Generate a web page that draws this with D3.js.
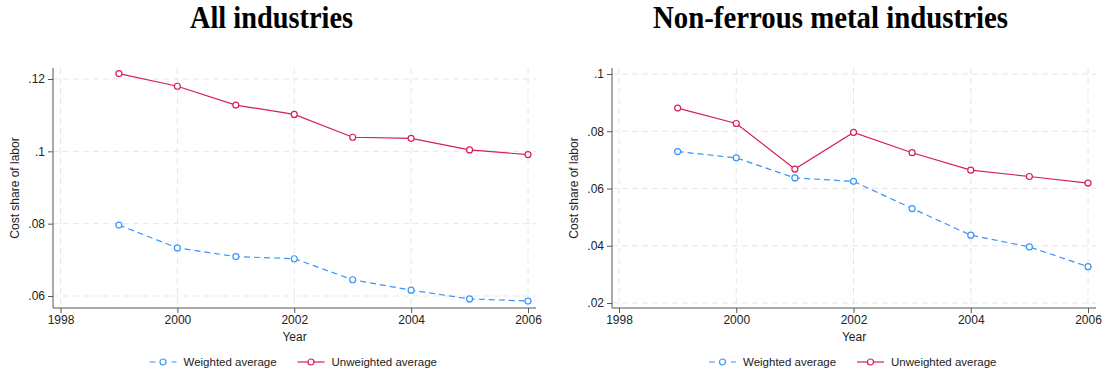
<!DOCTYPE html>
<html>
<head>
<meta charset="utf-8">
<script src="https://cdn.jsdelivr.net/npm/d3@7/dist/d3.min.js"></script>
<style>
  body { margin: 0; background: #fff; }
  svg { display: block; }
</style>
</head>
<body>
<script>
var years = [1999, 2000, 2001, 2002, 2003, 2004, 2005, 2006];
var xTicks = [1998, 2000, 2002, 2004, 2006];

var allWeighted = [.0796, .0733, .0709, .0703, .0645, .0616, .0592, .0586];
var allUnweighted = [.1215, .118, .1128, .1102, .1039, .1036, .1004, .0991];
var allTicks = [.06, .08, .1, .12];

var nfWeighted = [.0729, .0707, .0637, .0625, .053, .0437, .0396, .0327];
var nfUnweighted = [.0881, .0827, .0668, .0796, .0725, .0664, .0642, .0619];
var nfTicks = [.02, .04, .06, .08, .1];

var titles = ['All industries', 'Non-ferrous metal industries'];
var seriesNames = ['Weighted average', 'Unweighted average'];
var blue = '#3a94fb';
var red = '#d51f56';
var sans = '"Liberation Sans", Arial, sans-serif';

var w = 1104, h = 375;
var svg = d3.select('body').append('svg').attr('width', w).attr('height', h)
  .attr('font-family', sans);

var fmt = (v) => d3.format('.2~f')(v).replace(/^0/, '');

var panels = [
  { title: titles[0], weighted: allWeighted, unweighted: allUnweighted, ticks: allTicks,
    xr: [60.5, 528], yd: [.06, .12], yr: [296, 79], left: 53, right: 536, titleX: 271.5, titleW: 163 },
  { title: titles[1], weighted: nfWeighted, unweighted: nfUnweighted, ticks: nfTicks,
    xr: [619, 1088], yd: [.02, .1], yr: [303, 74], left: 612, right: 1096, titleX: 830.5, titleW: 355 }
];

panels.forEach((p) => {
  var x = d3.scaleLinear().domain([1998, 2006]).range(p.xr);
  var y = d3.scaleLinear().domain(p.yd).range(p.yr);
  var top = 68, bottom = 308;
  var g = svg.append('g');

  // grid
  g.selectAll('.hg').data(p.ticks).enter().append('line')
    .attr('x1', p.left).attr('x2', p.right)
    .attr('y1', d => y(d)).attr('y2', d => y(d))
    .attr('stroke', '#e6e6e6').attr('stroke-dasharray', '6,4');
  g.selectAll('.vg').data(xTicks).enter().append('line')
    .attr('x1', d => x(d)).attr('x2', d => x(d))
    .attr('y1', top).attr('y2', bottom)
    .attr('stroke', '#e6e6e6').attr('stroke-dasharray', '6,4');

  // axes
  var ya = g.append('g').attr('transform', 'translate(' + p.left + ',0)')
    .call(d3.axisLeft(y).tickValues(p.ticks).tickFormat(fmt).tickSize(5).tickPadding(3));
  ya.select('.domain').attr('d', 'M0,' + top + 'V' + bottom);
  var xa = g.append('g').attr('transform', 'translate(0,' + bottom + ')')
    .call(d3.axisBottom(x).tickValues(xTicks).tickFormat(d3.format('d')).tickSize(5).tickPadding(2));
  xa.select('.domain').attr('d', 'M' + p.left + ',0H' + p.right);
  g.selectAll('.domain, .tick line').attr('stroke', '#555');
  g.selectAll('.tick text').attr('font-size', 12).attr('fill', '#222').attr('font-family', sans);

  // titles
  svg.append('text').attr('x', p.titleX).attr('y', 28).attr('text-anchor', 'middle')
    .attr('font-family', '"Liberation Serif", "Times New Roman", serif')
    .attr('font-weight', 'bold').attr('font-size', 31).attr('fill', '#000')
    .attr('textLength', p.titleW).attr('lengthAdjust', 'spacingAndGlyphs')
    .text(p.title);
  svg.append('text')
    .attr('transform', 'translate(' + (p.left - 34) + ',' + ((top + bottom) / 2) + ') rotate(-90)')
    .attr('text-anchor', 'middle').attr('font-size', 12).attr('fill', '#222').text('Cost share of labor');
  var cx = (p.left + p.right) / 2;
  svg.append('text').attr('x', cx).attr('y', 341).attr('text-anchor', 'middle')
    .attr('font-size', 12).attr('fill', '#222').text('Year');

  // series
  var line = d3.line().x((d, i) => x(years[i])).y(d => y(d));
  [[p.weighted, blue, '6,4'], [p.unweighted, red, null]].forEach((s) => {
    g.append('path').datum(s[0]).attr('d', line).attr('fill', 'none')
      .attr('stroke', s[1]).attr('stroke-width', 1.2)
      .attr('stroke-dasharray', s[2]);
    g.selectAll(null).data(s[0]).enter().append('circle')
      .attr('cx', (d, i) => x(years[i])).attr('cy', d => y(d)).attr('r', 3)
      .attr('fill', '#fff').attr('stroke', s[1]).attr('stroke-width', 1.2);
  });

  // legend
  var lx = cx - 145, ly = 362;
  var items = [[seriesNames[0], blue, '6,5', 0], [seriesNames[1], red, null, 148]];
  items.forEach((it) => {
    var lg = svg.append('g').attr('transform', 'translate(' + (lx + it[3]) + ',' + ly + ')');
    lg.append('line').attr('x1', 0).attr('x2', 27).attr('y1', 0).attr('y2', 0)
      .attr('stroke', it[1]).attr('stroke-width', 1.2).attr('stroke-dasharray', it[2]);
    lg.append('circle').attr('cx', 13.5).attr('cy', 0).attr('r', 3)
      .attr('fill', '#fff').attr('stroke', it[1]).attr('stroke-width', 1.2);
    lg.append('text').attr('x', 34).attr('y', 4).attr('font-size', 11.5).attr('fill', '#222').text(it[0]);
  });
});
</script>
</body>
</html>
